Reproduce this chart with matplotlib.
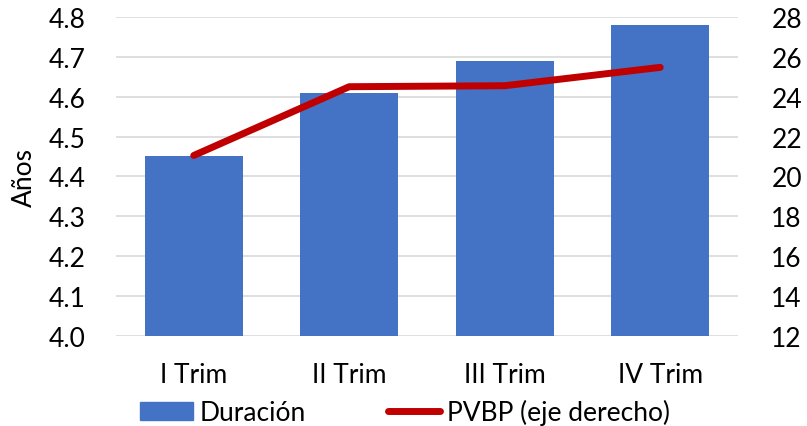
import matplotlib.pyplot as plt
from matplotlib.lines import Line2D
from matplotlib.patches import Patch

plt.rcParams["font.family"] = ["Lato", "DejaVu Sans"]

categories = ["I Trim", "II Trim", "III Trim", "IV Trim"]
duracion = [4.45, 4.61, 4.69, 4.78]
pvbp = [21.05, 24.5, 24.55, 25.47]

fig = plt.figure(figsize=(8.07, 4.27), dpi=100)
ax1 = fig.add_axes([0.1437, 0.211, 0.7708, 0.747])
ax2 = ax1.twinx()

x = range(len(categories))
ax1.bar(x, duracion, width=0.63, color="#4472C4", zorder=2)
ax1.set_ylim(4.0, 4.8)
ax1.set_yticks([4.0 + 0.1 * i for i in range(9)])
ax1.set_yticklabels([f"{4.0 + 0.1 * i:.1f}" for i in range(9)])
ax1.set_xlim(-0.5, len(categories) - 0.5)
ax1.set_xticks(list(x))
ax1.set_xticklabels(categories)
ax1.yaxis.grid(True, color="#D9D9D9", linewidth=1.2, zorder=0)
ax1.set_axisbelow(True)
ax1.set_ylabel("Años", fontsize=19, labelpad=8)
ax1.tick_params(axis="y", length=0, pad=22, labelsize=19)
ax1.tick_params(axis="x", length=0, pad=19, labelsize=19)

ax2.plot(list(x), pvbp, color="#C00000", linewidth=5, solid_capstyle="round", zorder=3)
ax2.set_ylim(12, 28)
ax2.set_yticks(list(range(12, 29, 2)))
ax2.tick_params(axis="y", length=0, pad=24, labelsize=19)

for ax in (ax1, ax2):
    for s in ax.spines.values():
        s.set_visible(False)

handles = [Patch(color="#4472C4", label="Duración"),
           Line2D([0], [0], color="#C00000", linewidth=5, solid_capstyle="round",
                  label="PVBP (eje derecho)")]
fig.legend(handles=handles, loc="center", bbox_to_anchor=(0.502, 0.033), ncol=2,
           frameon=False, fontsize=19, handlelength=2.0, handleheight=0.65,
           handletextpad=0.25, columnspacing=3.1, borderaxespad=0)

fig.savefig("out.png", dpi=100)
